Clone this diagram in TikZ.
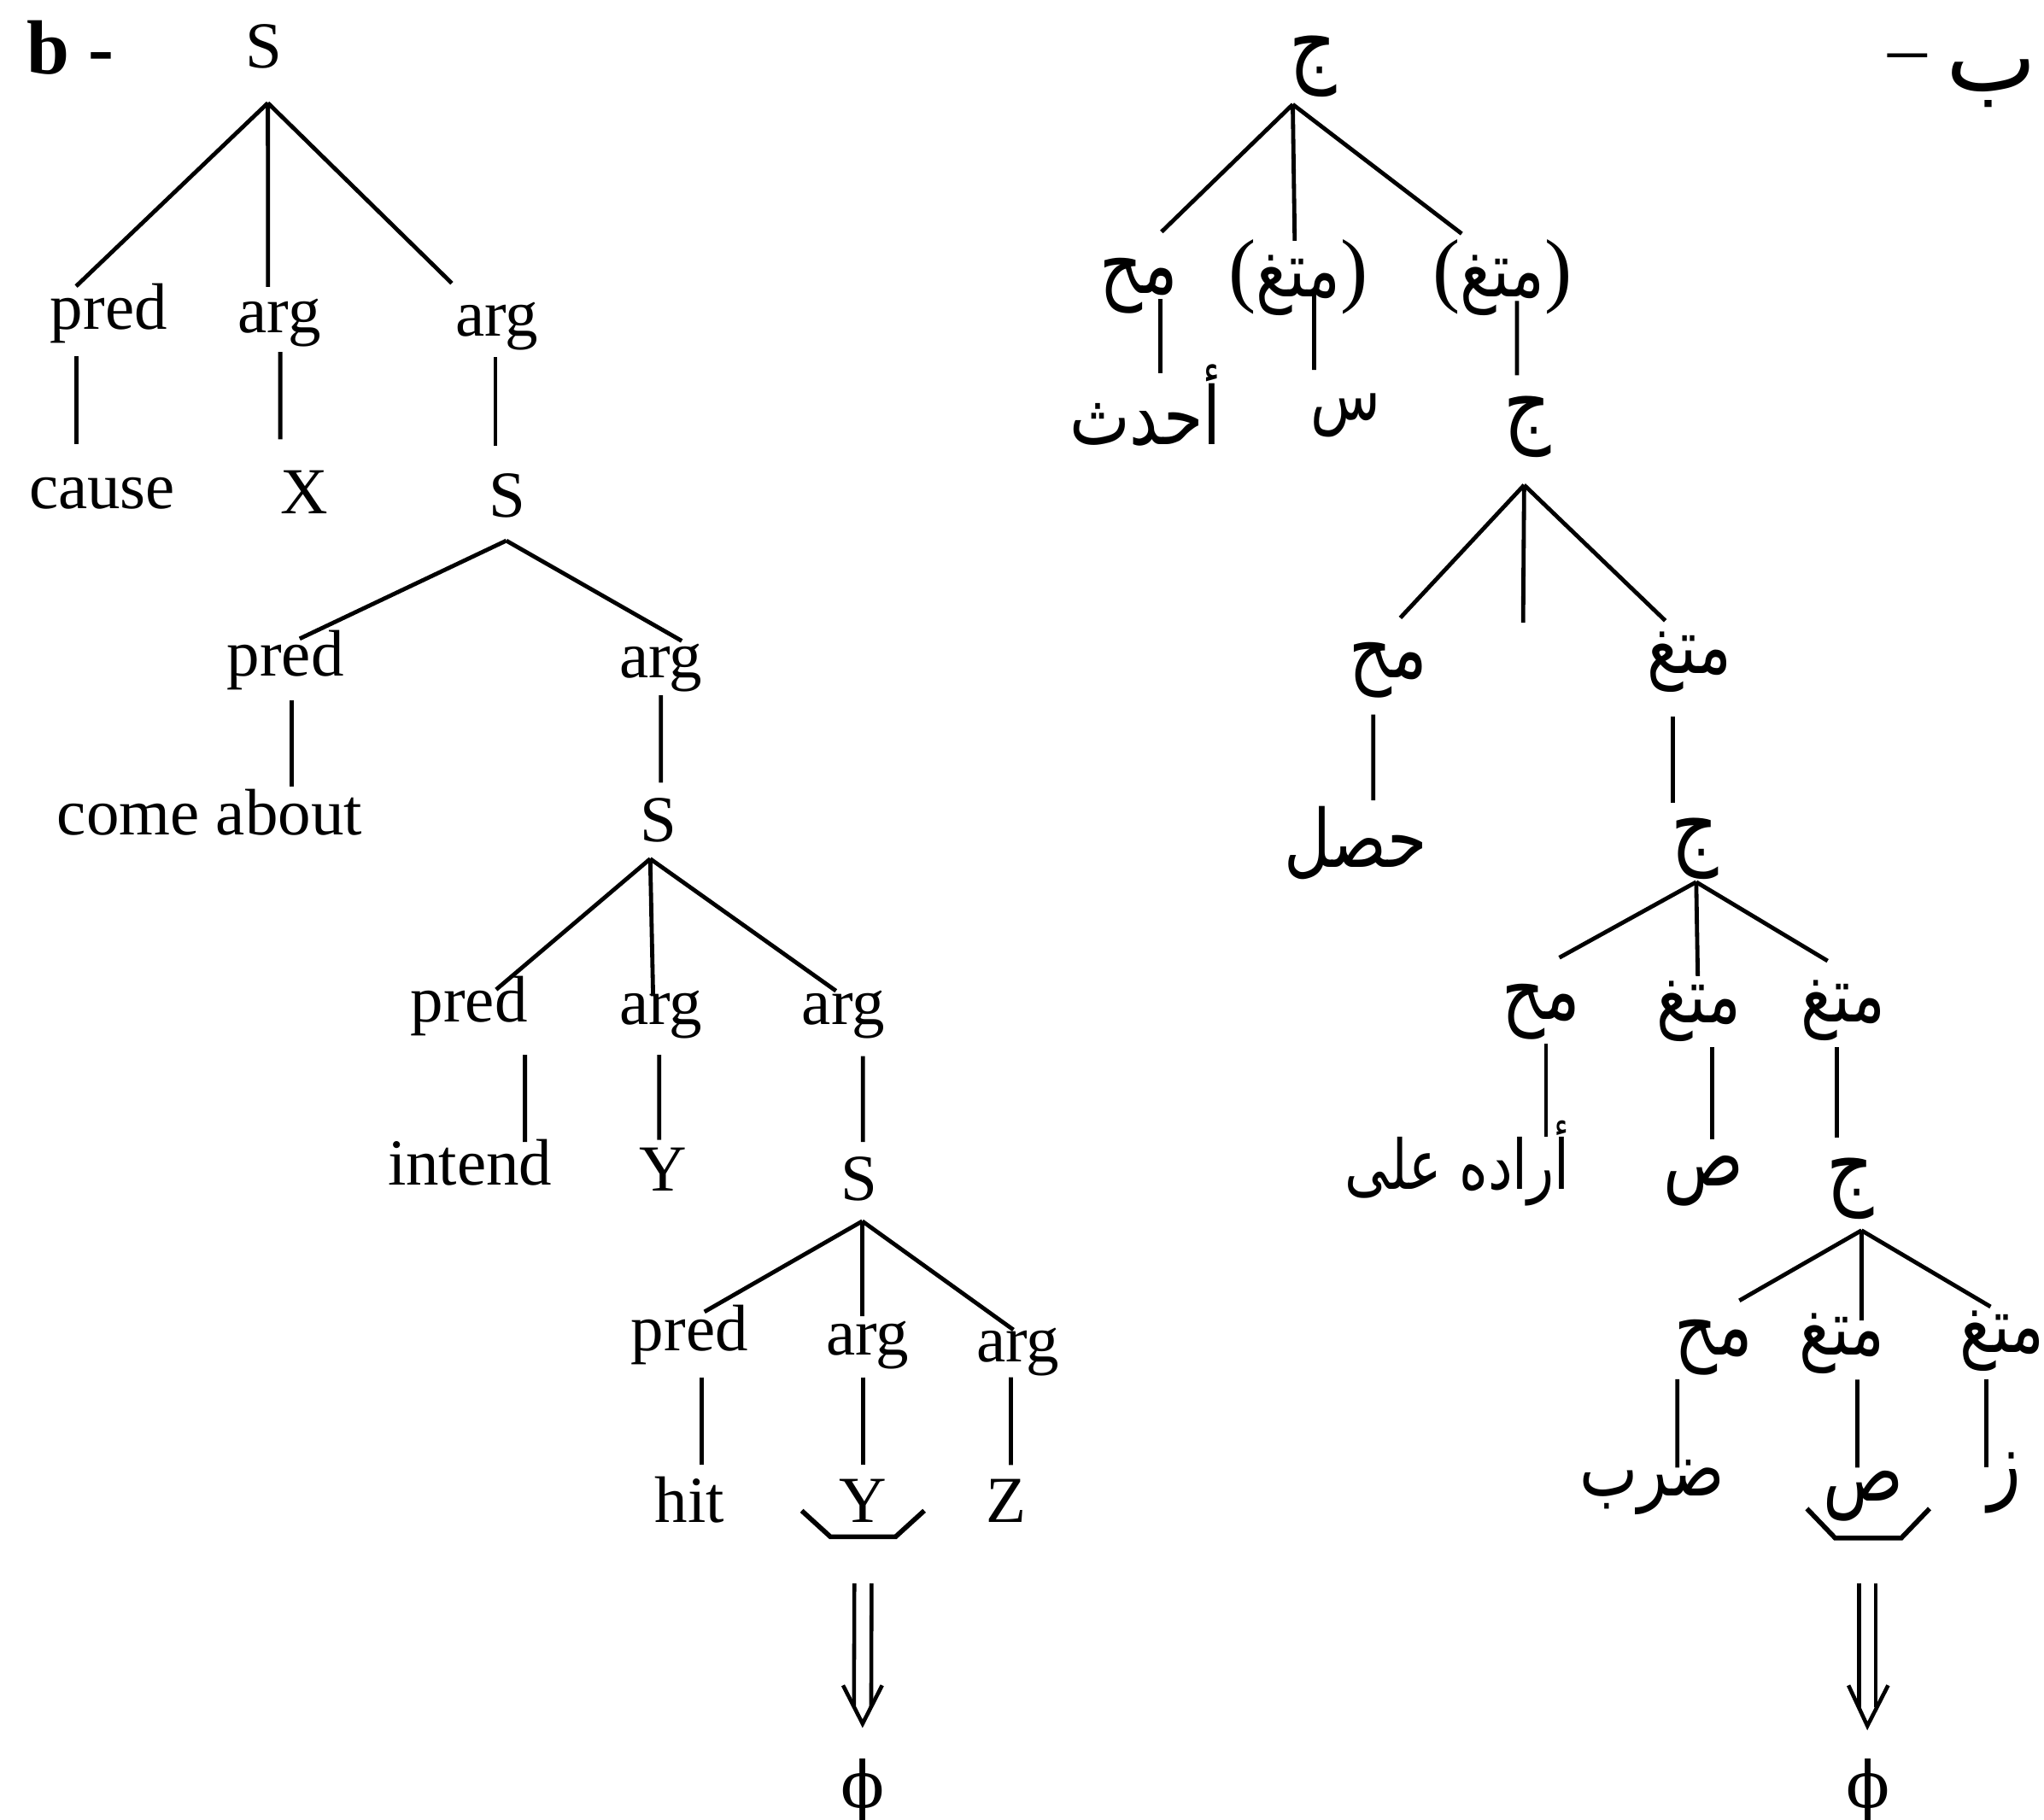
\documentclass[tikz,border=0pt]{standalone}
\usepackage{fontspec}
\usepackage{graphicx}
\TeXXeTstate=1
\newfontfamily\latinfont{Liberation Serif}
\newfontfamily\phifont{DejaVu Serif}
\newfontfamily\arabicfont[Script=Arabic]{DejaVu Sans}
\newcommand\LtSize{\fontsize{28.7}{34}\selectfont}
\newcommand\ArTxt[2][28]{{\arabicfont\fontsize{#1}{#1}\selectfont\scalebox{1}[1.25]{\beginR #2\endR}}}
\newcommand\ParTxt[1]{{\latinfont\fontsize{36}{40}\selectfont #1}}
\begin{document}
\begin{tikzpicture}[x=0.02cm, y=-0.02cm,
  lt/.style={font=\latinfont\LtSize, inner sep=0pt, anchor=base},
  ar/.style={inner sep=0pt, anchor=center},
  phinode/.style={font=\phifont\fontsize{28}{34}\selectfont, inner sep=0pt, anchor=base},
  edge/.style={line width=1.8pt},
  brk/.style={line width=2.1pt, line join=miter},
  dbl/.style={line width=1.7pt}]
\fill[white] (0,0) rectangle (1568,1396);
\path[use as bounding box] (0,0) rectangle (1568,1396);

% ---------------- left tree ----------------
\node[inner sep=0pt, anchor=base west, font=\latinfont\bfseries\fontsize{33.5}{40}\selectfont] (blab) at (20,57) {b -};
\node[lt] (S0) at (202.5,52) {S};
\node[lt] (p1) at (83.4,252.6) {pred};
\node[lt] (a1) at (214.3,255.4) {arg};
\node[lt] (a2) at (381,258) {arg};
\node[lt] (cause) at (78.3,390.5) {cause};
\node[lt] (X) at (233.3,394) {X};
\node[lt] (S1) at (389,396.6) {S};
\node[lt] (p2) at (219,518.5) {pred};
\node[lt] (a3) at (506.8,520) {arg};
\node[lt] (come) at (160.8,640.3) {come about};
\node[lt] (S2) at (505,645.5) {S};
\node[lt] (p3) at (359.8,784.2) {pred};
\node[lt] (a4) at (506.8,786) {arg};
\node[lt] (a5) at (647,786) {arg};
\node[lt] (intend) at (360.5,909) {intend};
\node[lt] (Y1) at (508.5,914) {Y};
\node[lt] (S3) at (658.8,921) {S};
\node[lt] (p4) at (529,1036) {pred};
\node[lt] (a6) at (665.5,1039.3) {arg};
\node[lt] (a7) at (781,1044.5) {arg};
\node[lt] (hit) at (529,1168) {hit};
\node[lt] (Y2) at (662,1168) {Y};
\node[lt] (Z) at (772,1168) {Z};
\node[phinode] (phi1) at (661.7,1387) {ϕ};

\draw[edge] ([shift={(3,27)}]S0.base) -- ([shift={(-25,-33)}]p1.base);
\draw[edge] ([shift={(3,27)}]S0.base) -- ([shift={(-8.7,-35.4)}]a1.base);
\draw[edge] ([shift={(3,27)}]S0.base) -- ([shift={(-34.4,-40.7)}]a2.base);
\draw[edge] ([shift={(-24.9,20.4)}]p1.base) -- ([shift={(-19.8,-49.5)}]cause.base);
\draw[edge] ([shift={(0.7,14.6)}]a1.base) -- ([shift={(-18.3,-57)}]X.base);
\draw[edge] ([shift={(-1,16)}]a2.base) -- ([shift={(-9,-54.6)}]S1.base);
\draw[edge] ([shift={(-0.6,18.2)}]S1.base) -- ([shift={(10.9,-28.5)}]p2.base);
\draw[edge] ([shift={(-0.6,18.2)}]S1.base) -- ([shift={(16.2,-28.3)}]a3.base);
\draw[edge] ([shift={(4.9,18.5)}]p2.base) -- ([shift={(63.1,-36.6)}]come.base);
\draw[edge] ([shift={(0.2,13.5)}]a3.base) -- ([shift={(2,-45.1)}]S2.base);
\draw[edge] ([shift={(-6.2,13.4)}]S2.base) -- ([shift={(20.8,-25)}]p3.base);
\draw[edge] ([shift={(-6.2,13.4)}]S2.base) -- ([shift={(-5.8,-21.8)}]a4.base);
\draw[edge] ([shift={(-6.2,13.4)}]S2.base) -- ([shift={(-5.7,-25.8)}]a5.base);
\draw[edge] ([shift={(42.9,25.1)}]p3.base) -- ([shift={(42.2,-32.8)}]intend.base);
\draw[edge] ([shift={(-1.1,23.3)}]a4.base) -- ([shift={(-2.8,-39.5)}]Y1.base);
\draw[edge] ([shift={(15,24.3)}]a5.base) -- ([shift={(3.2,-44.8)}]S3.base);
\draw[edge] ([shift={(2.7,15.9)}]S3.base) -- ([shift={(11.4,-29.6)}]p4.base);
\draw[edge] ([shift={(2.7,15.9)}]S3.base) -- ([shift={(-4,-29.5)}]a6.base);
\draw[edge] ([shift={(2.7,15.9)}]S3.base) -- ([shift={(-3.6,-24.3)}]a7.base);
\draw[edge] ([shift={(9.5,20.7)}]p4.base) -- ([shift={(9.5,-44.5)}]hit.base);
\draw[edge] ([shift={(-3.5,17.4)}]a6.base) -- ([shift={(0,-44)}]Y2.base);
\draw[edge] ([shift={(-5.5,12.2)}]a7.base) -- ([shift={(3.5,-44)}]Z.base);
\draw[brk] ([shift={(-47,-9)}]Y2.base) -- ++(22,20) -- ++(50,0) -- ++(22,-20);
\draw[dbl] ([shift={(-6.6,46.7)}]Y2.base) -- ([shift={(-6.6,-77)}]phi1.base);
\draw[dbl] ([shift={(6.6,46.7)}]Y2.base) -- ([shift={(6.6,-77)}]phi1.base);
\draw[dbl] ([shift={(-15,-94)}]phi1.base) -- ([shift={(0,-64.6)}]phi1.base) -- ([shift={(15,-94)}]phi1.base);

% ---------------- right tree ----------------
\node[ar, anchor=east] (bA) at (1563,62) {{\arabicfont\beginR{\fontsize{42}{42}\selectfont ب}\hspace{0.3cm}{\latinfont\fontsize{34}{38}\selectfont\raisebox{0.22em}{–}}\endR}};
\node[ar] (J0) at (1007,51) {\ArTxt[32]{ج}};
\node[ar] (M1) at (873.5,219) {\ArTxt[29]{مح}};
\node[ar] (V1) at (996,213) {\ParTxt{(}\ArTxt[27]{متغ}\ParTxt{)}};
\node[ar] (V2) at (1152.5,213) {\ParTxt{(}\ArTxt[27]{متغ}\ParTxt{)}};
\node[ar] (hdth) at (878.5,311) {\ArTxt[28]{أحدث}};
\node[ar] (sin) at (1032,319) {\ArTxt[25]{س}};
\node[ar] (J1) at (1171.5,327.5) {\ArTxt[32]{ج}};
\coordinate (J1mid) at (1168.4,477.7);
\node[ar] (M2) at (1065,514) {\ArTxt[29]{مح}};
\node[ar] (V3) at (1296,508) {\ArTxt[27]{متغ}};
\node[ar] (hsl) at (1040,647) {\ArTxt[28]{حصل}};
\node[ar] (J2) at (1300,651) {\ArTxt[32]{ج}};
\node[ar] (M3) at (1182,776.5) {\ArTxt[29]{مح}};
\node[ar] (V4) at (1303,776) {\ArTxt[27]{متغ}};
\node[ar] (V5) at (1414,775) {\ArTxt[27]{متغ}};
\node[ar] (arada) at (1118,892.5) {\ArTxt[24]{أراده على}};
\node[ar] (sad1) at (1307,906) {\ArTxt[29]{ص}};
\node[ar] (J3) at (1419.5,912) {\ArTxt[32]{ج}};
\node[ar] (M4) at (1314.5,1034) {\ArTxt[29]{مح}};
\node[ar] (V6) at (1413,1031) {\ArTxt[27]{متغ}};
\node[ar] (V7) at (1536,1029) {\ArTxt[27]{متغ}};
\node[ar] (drb) at (1267.5,1141) {\ArTxt[27]{ضرب}};
\node[ar] (sad2) at (1429.5,1148) {\ArTxt[29]{ص}};
\node[ar] (zay) at (1537.5,1137.5) {\ArTxt[30]{ز}};
\node[phinode] (phi2) at (1433,1387) {ϕ};

\draw[edge] ([shift={(-15.3,29.1)}]J0.center) -- ([shift={(17.5,-41.1)}]M1.center);
\draw[edge] ([shift={(-15.3,29.1)}]J0.center) -- ([shift={(-2.8,-28.3)}]V1.center);
\draw[edge] ([shift={(-15.3,29.1)}]J0.center) -- ([shift={(-31.2,-33.7)}]V2.center);
\draw[edge] ([shift={(16.5,10.5)}]M1.center) -- ([shift={(11.5,-24.5)}]hdth.center);
\draw[edge] ([shift={(12.1,12.4)}]V1.center) -- ([shift={(-23.9,-35.2)}]sin.center);
\draw[edge] ([shift={(11.2,17.9)}]V2.center) -- ([shift={(-7.8,-39.6)}]J1.center);
\draw[edge] ([shift={(-2.3,44.6)}]J1.center) -- ([shift={(9.2,-40)}]M2.center);
\draw[edge] ([shift={(-2.3,44.6)}]J1.center) -- (J1mid);
\draw[edge] ([shift={(-2.3,44.6)}]J1.center) -- ([shift={(-18.5,-31.8)}]V3.center);
\draw[edge] ([shift={(-11.6,34.2)}]M2.center) -- ([shift={(13.4,-33)}]hsl.center);
\draw[edge] ([shift={(-12.7,41.8)}]V3.center) -- ([shift={(-16.7,-34.8)}]J2.center);
\draw[edge] ([shift={(1.2,25.7)}]J2.center) -- ([shift={(14.2,-41.8)}]M3.center);
\draw[edge] ([shift={(1.2,25.7)}]J2.center) -- ([shift={(-0.6,-27.2)}]V4.center);
\draw[edge] ([shift={(1.2,25.7)}]J2.center) -- ([shift={(-12,-37.8)}]V5.center);
\draw[edge] ([shift={(4,24.5)}]M3.center) -- ([shift={(68,-20.5)}]arada.center);
\draw[edge] ([shift={(10.6,27.6)}]V4.center) -- ([shift={(6.6,-32.2)}]sad1.center);
\draw[edge] ([shift={(-5,28.6)}]V5.center) -- ([shift={(-10.5,-39.4)}]J3.center);
\draw[edge] ([shift={(8.5,32)}]J3.center) -- ([shift={(19.8,-36.2)}]M4.center);
\draw[edge] ([shift={(8.5,32)}]J3.center) -- ([shift={(15,-18)}]V6.center);
\draw[edge] ([shift={(8.5,32)}]J3.center) -- ([shift={(-9,-26.5)}]V7.center);
\draw[edge] ([shift={(-27.8,24.2)}]M4.center) -- ([shift={(19.2,-15)}]drb.center);
\draw[edge] ([shift={(11.8,27.5)}]V6.center) -- ([shift={(-4.7,-22)}]sad2.center);
\draw[edge] ([shift={(-12.2,29)}]V7.center) -- ([shift={(-13.7,-11.5)}]zay.center);
\draw[brk] ([shift={(-43.4,9.4)}]sad2.center) -- ++(21.7,22.6) -- ++(50.7,0) -- ++(21.7,-22.6);
\draw[dbl] ([shift={(-3.4,66.7)}]sad2.center) -- ([shift={(-6.9,-77)}]phi2.base);
\draw[dbl] ([shift={(9.3,66.7)}]sad2.center) -- ([shift={(5.8,-77)}]phi2.base);
\draw[dbl] ([shift={(-15,-94)}]phi2.base) -- ([shift={(-0.5,-62.9)}]phi2.base) -- ([shift={(15.4,-94)}]phi2.base);
\end{tikzpicture}
\end{document}
